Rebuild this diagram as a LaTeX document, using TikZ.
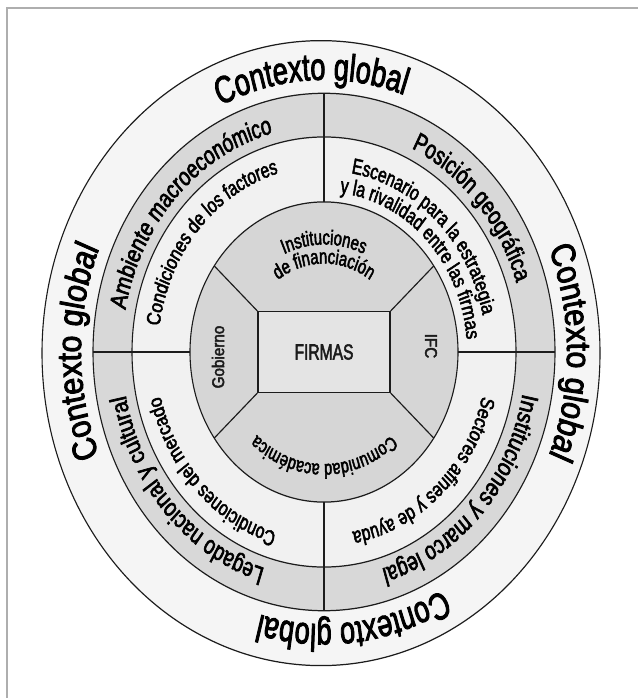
\documentclass[tikz,border=0pt]{standalone}
\usepackage{fontspec}
\setmainfont[FakeStretch=0.8, FakeBold=2.5]{Liberation Sans}
\usetikzlibrary{decorations.text}
\definecolor{outerband}{HTML}{F5F5F5}
\definecolor{grayband}{HTML}{D8D8D8}
\definecolor{whiteband}{HTML}{F1F1F1}
\definecolor{innergray}{HTML}{D6D6D6}
\definecolor{rectgray}{HTML}{E4E4E4}
\definecolor{framegray}{HTML}{AEAEAE}
\definecolor{ink}{HTML}{1C1C1C}
\newcommand{\bigtxt}{\fontsize{34}{38}\selectfont}
\newcommand{\midtxt}{\fontsize{23.5}{26}\selectfont}
\newcommand{\smalltxt}{\fontsize{19.5}{22}\selectfont}
\newcommand{\innertxt}{\fontsize{18.5}{21}\selectfont}
\newcommand{\tinytxt}{\fontsize{17}{20}\selectfont}

\begin{document}
\begin{tikzpicture}[x=1pt, y=1pt, line width=1.1pt, color=ink,
  ring/.style={draw=ink, fill=#1},
  arctext/.style={decorate, decoration={text along path, text align=center, text={#1}}}]
\useasboundingbox (0,0) rectangle (638,-698);
\draw[framegray, line width=2pt] (7,-698) -- (7,-8) -- (638,-8);
\begin{scope}[transform canvas={shift={(324,-352)}, yscale=1.12}]
% rings
\filldraw[ring=outerband] (-3,-1) circle (279);
\filldraw[ring=grayband] (0,0) circle (231);
\filldraw[ring=whiteband] (0,0) circle (192);
\filldraw[ring=innergray] (0,0) circle (134);
% dividers
\coordinate (t2) at (90:231); \coordinate (t0) at (90:134);
\coordinate (b2) at (270:231); \coordinate (b0) at (270:134);
\coordinate (l2) at (180:231); \coordinate (l0) at (180:134);
\coordinate (r2) at (0:231); \coordinate (r0) at (0:134);
\draw (t2) -- (t0);
\draw (b0) -- (b2);
\draw (l2) -- (l0);
\draw (r0) -- (r2);
% centre
\node[draw, fill=rectgray, minimum width=132pt, minimum height=72pt, font=\smalltxt] (firmas) at (0,0) {FIRMAS};
\coordinate (sne) at (35:134); \coordinate (snw) at (145:134);
\coordinate (ssw) at (215:134); \coordinate (sse) at (-35:134);
\draw (firmas.north east) -- (sne);
\draw (firmas.north west) -- (snw);
\draw (firmas.south west) -- (ssw);
\draw (firmas.south east) -- (sse);
\node[rotate=90, font=\tinytxt] (gob) at (-106,-4.5) {Gobierno};
\node[rotate=-90, font=\tinytxt] (ifc) at (107,5.4) {IFC};
% outer band
\foreach \a in {93,0,277,180}
  \path[arctext={|\bigtxt|Contexto global}] ({\a+60}:243) arc[start angle=\a+60, end angle=\a-60, radius=243];
% gray band
\path[arctext={|\midtxt|Ambiente macroeconómico}] (217:202) arc[start angle=217, end angle=57, radius=202];
\path[arctext={|\midtxt|Posición geográfica}] (121:202) arc[start angle=121, end angle=-39, radius=202];
\path[arctext={|\midtxt|Instituciones y marco legal}] (38:202) arc[start angle=38, end angle=-122, radius=202];
\path[arctext={|\midtxt|Legado nacional y cultural}] (302:202) arc[start angle=302, end angle=142, radius=202];
% white band
\path[arctext={|\smalltxt|Condiciones de los factores}] (219:166) arc[start angle=219, end angle=59, radius=166];
\path[arctext={|\smalltxt|Escenario para la estrategia}] (126:162) arc[start angle=126, end angle=-34, radius=162];
\path[arctext={|\smalltxt|y la rivalidad entre las firmas}] (124:143) arc[start angle=124, end angle=-36, radius=143];
\path[arctext={|\smalltxt|Sectores afines y de ayuda}] (33:163) arc[start angle=33, end angle=-127, radius=163];
\path[arctext={|\smalltxt|Condiciones del mercado}] (303.6:168) arc[start angle=303.6, end angle=143.6, radius=168];
% inner circle
\path[arctext={|\innertxt|Instituciones}] (160:96) arc[start angle=160, end angle=20, radius=96];
\path[arctext={|\innertxt|de financiación}] (170:79) arc[start angle=170, end angle=10, radius=79];
\path[arctext={|\fontsize{18}{21}\selectfont|Comunidad académica}] (355:100) arc[start angle=355, end angle=185, radius=100];
\end{scope}
\end{tikzpicture}
\end{document}
